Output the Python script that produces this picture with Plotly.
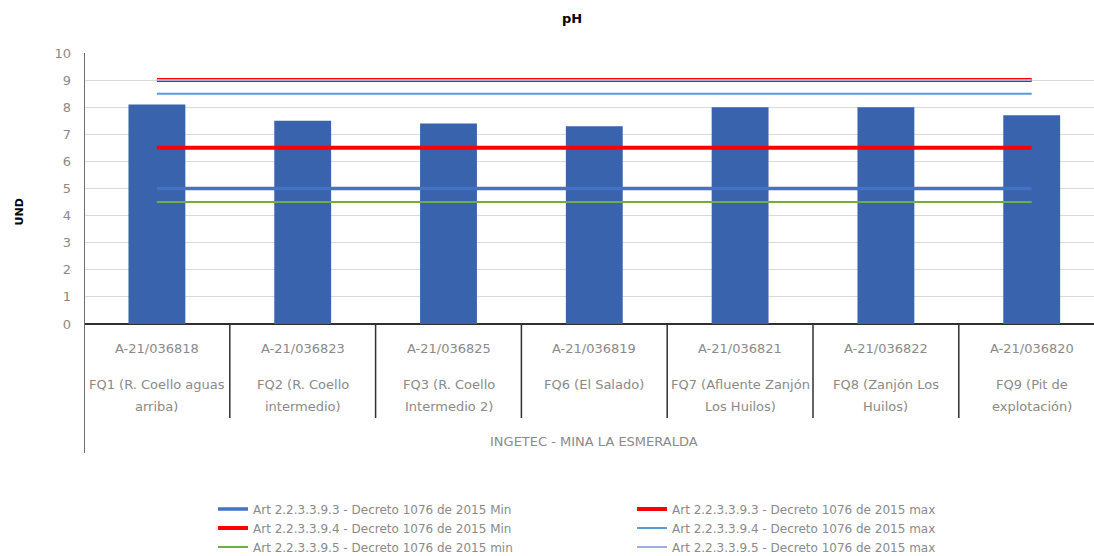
import plotly.graph_objects as go

codes = ["A-21/036818", "A-21/036823", "A-21/036825", "A-21/036819",
         "A-21/036821", "A-21/036822", "A-21/036820"]
names = [["FQ1 (R. Coello aguas", "arriba)"],
         ["FQ2 (R. Coello", "intermedio)"],
         ["FQ3 (R. Coello", "Intermedio 2)"],
         ["FQ6 (El Salado)"],
         ["FQ7 (Afluente Zanjón", "Los Huilos)"],
         ["FQ8 (Zanjón Los", "Huilos)"],
         ["FQ9 (Pit de", "explotación)"]]
group_label = "INGETEC - MINA LA ESMERALDA"
ph_values = [8.1, 7.5, 7.4, 7.3, 8.0, 8.0, 7.7]

lim_933_min = [5, 5, 5, 5, 5, 5, 5]
lim_933_max = [9, 9, 9, 9, 9, 9, 9]
lim_934_min = [6.5, 6.5, 6.5, 6.5, 6.5, 6.5, 6.5]
lim_934_max = [8.5, 8.5, 8.5, 8.5, 8.5, 8.5, 8.5]
lim_935_min = [4.5, 4.5, 4.5, 4.5, 4.5, 4.5, 4.5]
lim_935_max = [9, 9, 9, 9, 9, 9, 9]

y_ticks = [0, 1, 2, 3, 4, 5, 6, 7, 8, 9, 10]

x = list(range(len(codes)))

FONT = "DejaVu Sans, Verdana, sans-serif"
GRAY = "#8a8a8a"

W, H = 1094, 556

fig = go.Figure()
fig.add_trace(go.Bar(x=x, y=ph_values, marker=dict(color="#3A63AD", line=dict(width=0)),
                     width=0.39, showlegend=False, hoverinfo="y"))

lines = [
    ("Art 2.2.3.3.9.3 - Decreto 1076 de 2015 Min", lim_933_min, "#4472C4", 3.5, "legend"),
    ("Art 2.2.3.3.9.3 - Decreto 1076 de 2015 max", lim_933_max, "#FF0000", 4, "legend2"),
    ("Art 2.2.3.3.9.4 - Decreto 1076 de 2015 Min", lim_934_min, "#FF0000", 4, "legend"),
    ("Art 2.2.3.3.9.4 - Decreto 1076 de 2015 max", lim_934_max, "#5B9BD5", 2, "legend2"),
    ("Art 2.2.3.3.9.5 - Decreto 1076 de 2015 min", lim_935_min, "#70AD47", 2, "legend"),
    ("Art 2.2.3.3.9.5 - Decreto 1076 de 2015 max", lim_935_max, "#9DAEE0", 2, "legend2"),
]
for name, vals, color, w, lg in lines:
    fig.add_trace(go.Scatter(x=x, y=vals, mode="lines", name=name, legend=lg,
                             line=dict(color=color, width=w)))

# plot area geometry (pixels): y value 0 -> 324, 10 -> 53
def py(pixel):
    return (324 - pixel) / 271.0

annotations = []
for i, c in enumerate(codes):
    annotations.append(dict(x=i, y=py(348), xref="x", yref="paper", text=c,
                            showarrow=False, font=dict(size=13, color=GRAY, family=FONT),
                            xanchor="center", yanchor="middle"))
    for j, ln in enumerate(names[i]):
        annotations.append(dict(x=i, y=py(384 + 22.5 * j), xref="x", yref="paper", text=ln,
                                showarrow=False, font=dict(size=13, color=GRAY, family=FONT),
                                xanchor="center", yanchor="middle"))
annotations.append(dict(x=3, y=py(442), xref="x", yref="paper", text=group_label,
                        showarrow=False, font=dict(size=13, color=GRAY, family=FONT),
                        xanchor="center", yanchor="middle"))
annotations.append(dict(x=(18.5 - 84) / 1010.0, y=py(212), xref="paper", yref="paper",
                        text="<b>UND</b>", textangle=-90, showarrow=False,
                        xanchor="center", yanchor="middle",
                        font=dict(size=11, color="#000000", family=FONT)))

shapes = []
for i in range(1, len(codes)):
    shapes.append(dict(type="line", xref="x", yref="paper", x0=i - 0.5, x1=i - 0.5,
                       y0=0, y1=py(418), line=dict(color="#303030", width=1.5)))
shapes.append(dict(type="line", xref="x", yref="paper", x0=-0.5, x1=-0.5,
                   y0=1, y1=py(453), line=dict(color="#6e6e6e", width=2)))

legend_common = dict(orientation="v", yref="container", xref="container",
                     yanchor="top", xanchor="left", y=1 - 494.5 / H,
                     font=dict(size=12, color=GRAY, family=FONT), tracegroupgap=0,
                     itemwidth=30, bgcolor="rgba(0,0,0,0)")

fig.update_layout(
    width=W, height=H,
    margin=dict(l=84, r=0, t=53, b=H - 324, autoexpand=False),
    paper_bgcolor="white", plot_bgcolor="white",
    title=dict(text="<b>pH</b>", x=572 / W, xref="container", xanchor="center",
               y=1 - 18 / H, yref="container", yanchor="middle",
               font=dict(size=13, color="#000000", family=FONT)),
    xaxis=dict(range=[-0.5, -0.5 + 1010 / 145.8], showticklabels=False, showgrid=False,
               zeroline=False, showline=False, fixedrange=True),
    yaxis=dict(range=[0, 10], tickvals=y_ticks, showgrid=True, gridcolor="#D9D9D9",
               gridwidth=1, zeroline=True, zerolinecolor="#303030", zerolinewidth=1.5,
               showline=False, ticks="", ticklen=0, ticklabelstandoff=12,
               tickfont=dict(size=13, color=GRAY, family=FONT)),
    legend=dict(legend_common, x=213 / W),
    legend2=dict(legend_common, x=632 / W),
    annotations=annotations, shapes=shapes,
    bargap=0.61,
)

fig.write_html("out.html", config={"displayModeBar": False},
               post_script="document.body.style.margin='0';document.body.style.overflow='hidden';")
